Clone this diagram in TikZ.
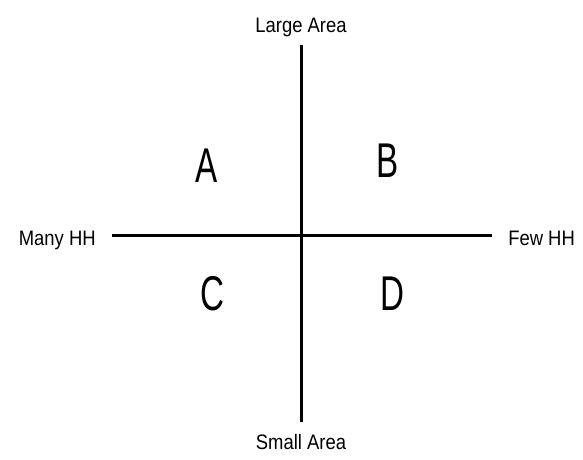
\documentclass[tikz,border=0pt]{standalone}
\usepackage{fontspec}
\setmainfont[FakeStretch=0.88]{Liberation Sans}
\newfontfamily\quadfont[FakeStretch=0.68]{Liberation Sans}
\usetikzlibrary{positioning}
\tikzset{
  axislabel/.style={font=\fontsize{14.9}{17}\selectfont, inner sep=0pt, anchor=base},
  quadrant/.style={font=\quadfont\fontsize{34.7}{40}\selectfont, inner sep=0pt, anchor=base},
  axis/.style={line width=1.5pt}
}
\begin{document}
\begin{tikzpicture}[x=0.025cm, y=-0.025cm]
\useasboundingbox (0,0) rectangle (583,459);

% Achsenbeschriftungen
\node[axislabel] (large) at (301,33) {Large Area};
\node[axislabel] (small) at (301,449) {Small Area};
\node[axislabel, anchor=base east] (many) at (96,245) {Many HH};
\node[axislabel, anchor=base west] (few) at (508,245) {Few HH};

% Endpunkte der Achsen
\coordinate (ytop) at (301.5,45);
\coordinate (ybot) at (301.5,422);
\coordinate (xleft) at (112,235.5);
\coordinate (xright) at (492,235.5);

% Quadranten
\node[quadrant] (qa) at (207,182) {A};
\node[quadrant] (qb) at (388,177) {B};
\node[quadrant] (qc) at (212,310) {C};
\node[quadrant] (qd) at (392,310) {D};

% Achsen
\draw[axis] (ytop) -- (ybot);
\draw[axis] (xleft) -- (xright);

\end{tikzpicture}
\end{document}
